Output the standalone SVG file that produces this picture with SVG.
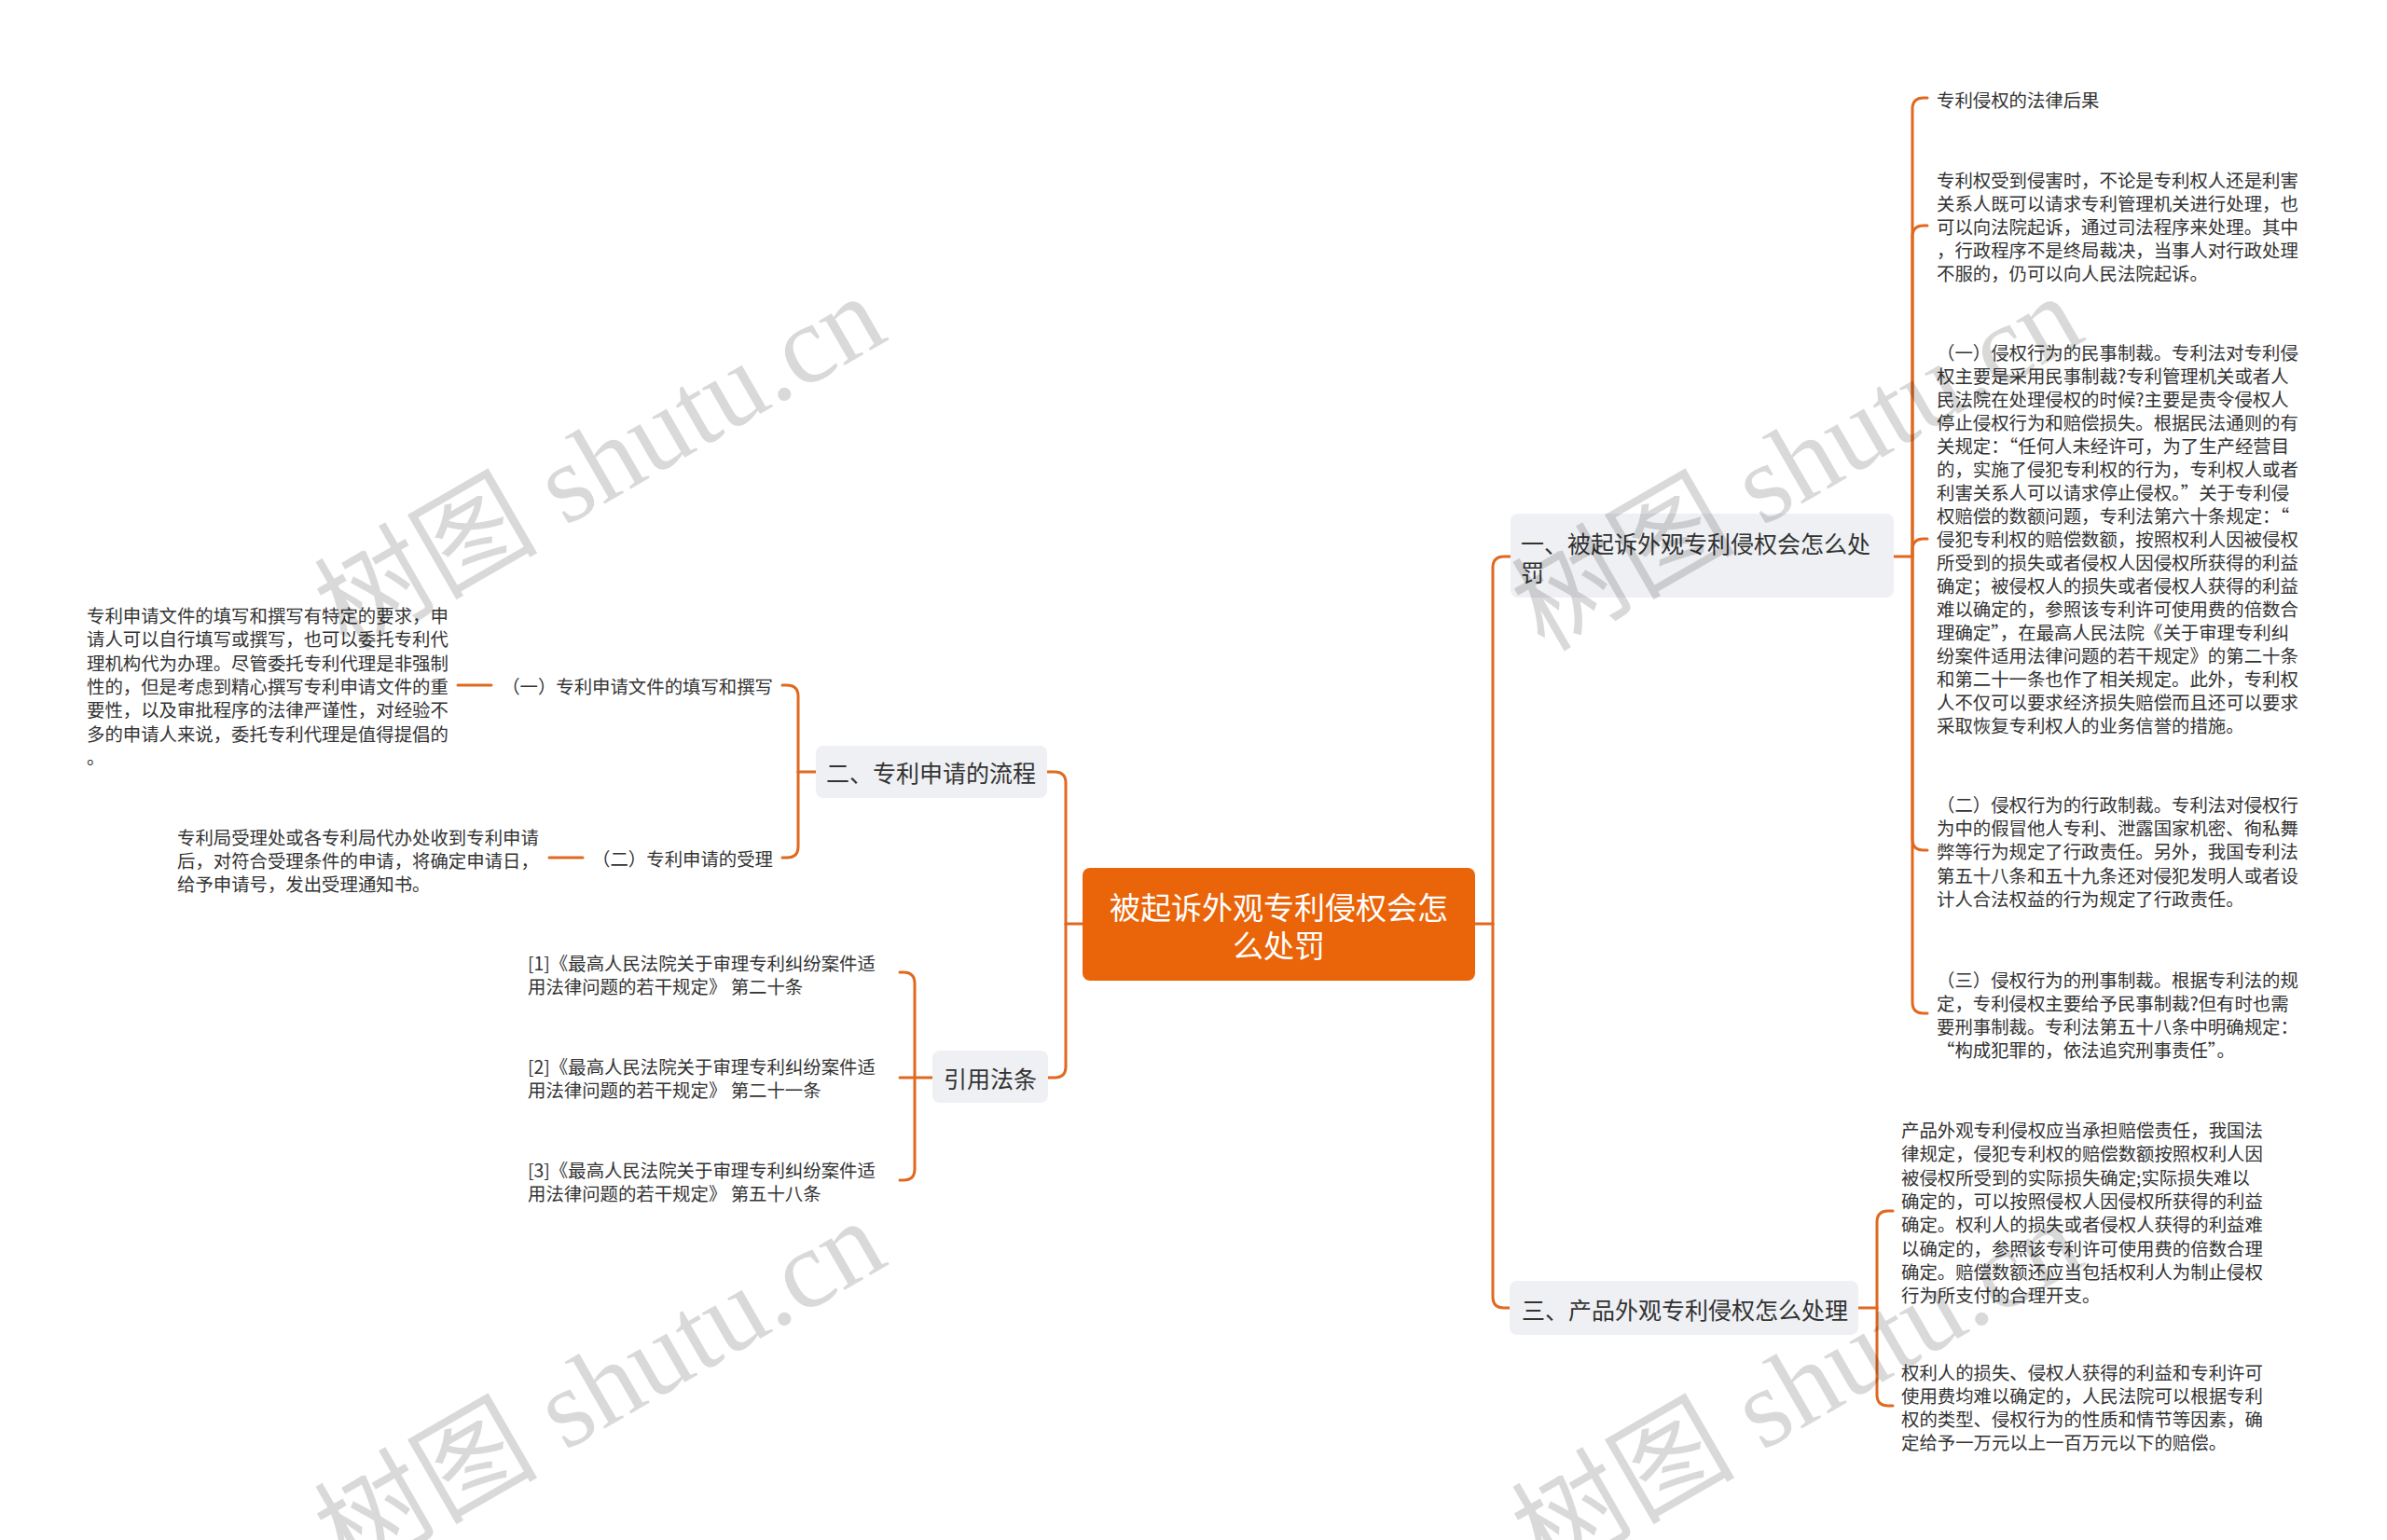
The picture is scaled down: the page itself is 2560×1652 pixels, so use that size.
<svg xmlns="http://www.w3.org/2000/svg" width="2560" height="1652" viewBox="0 0 2560 1652">
<style>
.bg{fill:#ffffff}
.conn{fill:none;stroke:#E0691F;stroke-width:3;stroke-linecap:round}
.root{fill:#EA6409}
.box{fill:#EEF0F3}
.rt{font-family:'Noto Sans CJK SC','Noto Sans',sans-serif;font-size:33px;fill:#ffffff;dominant-baseline:central;text-anchor:middle}
.nt{font-family:'Noto Sans CJK SC','Noto Sans',sans-serif;font-size:25px;fill:#333333;dominant-baseline:central}
.pt{font-family:'Noto Sans CJK SC','Noto Sans',sans-serif;font-size:19.4px;fill:#333333;dominant-baseline:central}
.wm{fill:#000000;fill-opacity:0.15}
.wmc{font-family:'Noto Sans CJK SC',sans-serif;font-size:120px}
.wml{font-family:'Liberation Serif',serif;font-size:120px}
</style>
<rect class="bg" x="0" y="0" width="2560" height="1652"/>

<g id="connectors">
  <path class="conn" d="M1582,991 H1601"/>
  <path class="conn" d="M1601,991 V609 Q1601,597 1613,597 H1620"/>
  <path class="conn" d="M1601,991 V1391 Q1601,1403 1613,1403 H1619"/>
  <path class="conn" d="M1161,991 H1143"/>
  <path class="conn" d="M1143,991 V840 Q1143,828 1131,828 H1123"/>
  <path class="conn" d="M1143,991 V1144 Q1143,1156 1131,1156 H1124"/>
  <path class="conn" d="M2031,597 H2051"/>
  <path class="conn" d="M2051,597 V117 Q2051,105 2063,105 H2067"/>
  <path class="conn" d="M2051,597 V254 Q2051,242 2063,242 H2067"/>
  <path class="conn" d="M2051,597 V590 Q2051,578 2063,578 H2067"/>
  <path class="conn" d="M2051,597 V900 Q2051,912 2063,912 H2067"/>
  <path class="conn" d="M2051,597 V1075 Q2051,1087 2063,1087 H2067"/>
  <path class="conn" d="M1993,1403 H2013"/>
  <path class="conn" d="M2013,1403 V1311 Q2013,1299 2025,1299 H2030"/>
  <path class="conn" d="M2013,1403 V1496 Q2013,1508 2025,1508 H2030"/>
  <path class="conn" d="M875,828 H856"/>
  <path class="conn" d="M856,828 V747 Q856,735 844,735 H839"/>
  <path class="conn" d="M856,828 V908 Q856,920 844,920 H839"/>
  <path class="conn" d="M527,735 H491"/>
  <path class="conn" d="M625,920 H589"/>
  <path class="conn" d="M1000,1156 H981"/>
  <path class="conn" d="M981,1156 V1055 Q981,1043 969,1043 H965"/>
  <path class="conn" d="M981,1156 H965"/>
  <path class="conn" d="M981,1156 V1254 Q981,1266 969,1266 H965"/>
</g>

<g id="root">
  <rect class="root" x="1161" y="931" width="421" height="121" rx="8"/>
  <text class="rt"><tspan x="1371.5" y="972">被起诉外观专利侵权会怎</tspan><tspan x="1371.5" y="1013">么处罚</tspan></text>
</g>

<g id="n1">
  <rect class="box" x="1620" y="551" width="411" height="90" rx="8"/>
  <text class="nt"><tspan x="1631" y="582">一、被起诉外观专利侵权会怎么处</tspan><tspan x="1631" y="613">罚</tspan></text>
</g>

<g id="n1-1">
  <text class="pt" x="2077" y="106">专利侵权的法律后果</text>
</g>

<g id="n1-2">
  <text class="pt">
    <tspan x="2077" y="191.5">专利权受到侵害时，不论是专利权人还是利害</tspan>
    <tspan x="2077" dy="25.2">关系人既可以请求专利管理机关进行处理，也</tspan>
    <tspan x="2077" dy="25.2">可以向法院起诉，通过司法程序来处理。其中</tspan>
    <tspan x="2077" dy="25.2">，行政程序不是终局裁决，当事人对行政处理</tspan>
    <tspan x="2077" dy="25.2">不服的，仍可以向人民法院起诉。</tspan>
  </text>
</g>

<g id="n1-3">
  <text class="pt">
    <tspan x="2077" y="377">（一）侵权行为的民事制裁。专利法对专利侵</tspan>
    <tspan x="2077" dy="25">权主要是采用民事制裁?专利管理机关或者人</tspan>
    <tspan x="2077" dy="25">民法院在处理侵权的时候?主要是责令侵权人</tspan>
    <tspan x="2077" dy="25">停止侵权行为和赔偿损失。根据民法通则的有</tspan>
    <tspan x="2077" dy="25">关规定：“任何人未经许可，为了生产经营目</tspan>
    <tspan x="2077" dy="25">的，实施了侵犯专利权的行为，专利权人或者</tspan>
    <tspan x="2077" dy="25">利害关系人可以请求停止侵权。”关于专利侵</tspan>
    <tspan x="2077" dy="25">权赔偿的数额问题，专利法第六十条规定：“</tspan>
    <tspan x="2077" dy="25">侵犯专利权的赔偿数额，按照权利人因被侵权</tspan>
    <tspan x="2077" dy="25">所受到的损失或者侵权人因侵权所获得的利益</tspan>
    <tspan x="2077" dy="25">确定；被侵权人的损失或者侵权人获得的利益</tspan>
    <tspan x="2077" dy="25">难以确定的，参照该专利许可使用费的倍数合</tspan>
    <tspan x="2077" dy="25">理确定”，在最高人民法院《关于审理专利纠</tspan>
    <tspan x="2077" dy="25">纷案件适用法律问题的若干规定》的第二十条</tspan>
    <tspan x="2077" dy="25">和第二十一条也作了相关规定。此外，专利权</tspan>
    <tspan x="2077" dy="25">人不仅可以要求经济损失赔偿而且还可以要求</tspan>
    <tspan x="2077" dy="25">采取恢复专利权人的业务信誉的措施。</tspan>
  </text>
</g>

<g id="n1-4">
  <text class="pt">
    <tspan x="2077" y="862">（二）侵权行为的行政制裁。专利法对侵权行</tspan>
    <tspan x="2077" dy="25.2">为中的假冒他人专利、泄露国家机密、徇私舞</tspan>
    <tspan x="2077" dy="25.2">弊等行为规定了行政责任。另外，我国专利法</tspan>
    <tspan x="2077" dy="25.2">第五十八条和五十九条还对侵犯发明人或者设</tspan>
    <tspan x="2077" dy="25.2">计人合法权益的行为规定了行政责任。</tspan>
  </text>
</g>

<g id="n1-5">
  <text class="pt">
    <tspan x="2077" y="1050">（三）侵权行为的刑事制裁。根据专利法的规</tspan>
    <tspan x="2077" dy="25">定，专利侵权主要给予民事制裁?但有时也需</tspan>
    <tspan x="2077" dy="25">要刑事制裁。专利法第五十八条中明确规定：</tspan>
    <tspan x="2077" dy="25">“构成犯罪的，依法追究刑事责任”。</tspan>
  </text>
</g>

<g id="n3">
  <rect class="box" x="1619" y="1374" width="374" height="58" rx="8"/>
  <text class="nt" x="1632" y="1404">三、产品外观专利侵权怎么处理</text>
</g>

<g id="n3-1">
  <text class="pt">
    <tspan x="2039" y="1211">产品外观专利侵权应当承担赔偿责任，我国法</tspan>
    <tspan x="2039" dy="25.3">律规定，侵犯专利权的赔偿数额按照权利人因</tspan>
    <tspan x="2039" dy="25.3">被侵权所受到的实际损失确定;实际损失难以</tspan>
    <tspan x="2039" dy="25.3">确定的，可以按照侵权人因侵权所获得的利益</tspan>
    <tspan x="2039" dy="25.3">确定。权利人的损失或者侵权人获得的利益难</tspan>
    <tspan x="2039" dy="25.3">以确定的，参照该专利许可使用费的倍数合理</tspan>
    <tspan x="2039" dy="25.3">确定。赔偿数额还应当包括权利人为制止侵权</tspan>
    <tspan x="2039" dy="25.3">行为所支付的合理开支。</tspan>
  </text>
</g>

<g id="n3-2">
  <text class="pt">
    <tspan x="2039" y="1471">权利人的损失、侵权人获得的利益和专利许可</tspan>
    <tspan x="2039" dy="25">使用费均难以确定的，人民法院可以根据专利</tspan>
    <tspan x="2039" dy="25">权的类型、侵权行为的性质和情节等因素，确</tspan>
    <tspan x="2039" dy="25">定给予一万元以上一百万元以下的赔偿。</tspan>
  </text>
</g>

<g id="n2">
  <rect class="box" x="875" y="800" width="248" height="56" rx="8"/>
  <text class="nt" x="886" y="828">二、专利申请的流程</text>
</g>

<g id="n2-1">
  <text class="pt" x="829" y="735" text-anchor="end">（一）专利申请文件的填写和撰写</text>
</g>

<g id="n2-1-1">
  <text class="pt">
    <tspan x="93" y="659">专利申请文件的填写和撰写有特定的要求，申</tspan>
    <tspan x="93" dy="25.3">请人可以自行填写或撰写，也可以委托专利代</tspan>
    <tspan x="93" dy="25.3">理机构代为办理。尽管委托专利代理是非强制</tspan>
    <tspan x="93" dy="25.3">性的，但是考虑到精心撰写专利申请文件的重</tspan>
    <tspan x="93" dy="25.3">要性，以及审批程序的法律严谨性，对经验不</tspan>
    <tspan x="93" dy="25.3">多的申请人来说，委托专利代理是值得提倡的</tspan>
    <tspan x="93" dy="25.3">。</tspan>
  </text>
</g>

<g id="n2-2">
  <text class="pt" x="829" y="920" text-anchor="end">（二）专利申请的受理</text>
</g>

<g id="n2-2-1">
  <text class="pt">
    <tspan x="190" y="897">专利局受理处或各专利局代办处收到专利申请</tspan>
    <tspan x="190" dy="25">后，对符合受理条件的申请，将确定申请日，</tspan>
    <tspan x="190" dy="25">给予申请号，发出受理通知书。</tspan>
  </text>
</g>

<g id="n4">
  <rect class="box" x="1000" y="1127" width="124" height="56" rx="8"/>
  <text class="nt" x="1062" y="1156" text-anchor="middle">引用法条</text>
</g>

<g id="n4-1">
  <text class="pt"><tspan x="566" y="1032">[1]《最高人民法院关于审理专利纠纷案件适</tspan><tspan x="566" dy="24.5">用法律问题的若干规定》 第二十条</tspan></text>
</g>
<g id="n4-2">
  <text class="pt"><tspan x="566" y="1143">[2]《最高人民法院关于审理专利纠纷案件适</tspan><tspan x="566" dy="24.5">用法律问题的若干规定》 第二十一条</tspan></text>
</g>
<g id="n4-3">
  <text class="pt"><tspan x="566" y="1254">[3]《最高人民法院关于审理专利纠纷案件适</tspan><tspan x="566" dy="24.5">用法律问题的若干规定》 第五十八条</tspan></text>
</g>

<g id="watermarks" class="wm">
  <text transform="translate(372,700) rotate(-30)"><tspan class="wmc">树图</tspan><tspan class="wml"> shutu.cn</tspan></text>
  <text transform="translate(1656,700) rotate(-30)"><tspan class="wmc">树图</tspan><tspan class="wml"> shutu.cn</tspan></text>
  <text transform="translate(372,1692) rotate(-30)"><tspan class="wmc">树图</tspan><tspan class="wml"> shutu.cn</tspan></text>
  <text transform="translate(1656,1692) rotate(-30)"><tspan class="wmc">树图</tspan><tspan class="wml"> shutu.cn</tspan></text>
</g>
</svg>
